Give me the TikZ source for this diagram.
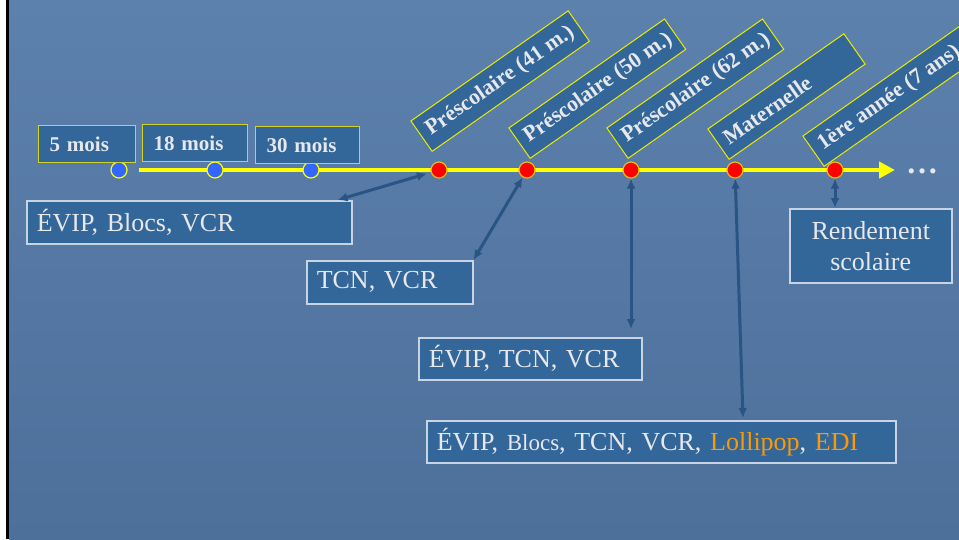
\documentclass[tikz,border=0pt]{standalone}
\usepackage{fontspec}
\setmainfont{Liberation Serif}
\usetikzlibrary{arrows.meta,calc}
\definecolor{bgtop}{RGB}{92,129,172}
\definecolor{bgbot}{RGB}{77,112,155}
\definecolor{boxblue}{RGB}{51,102,153}
\definecolor{txtgrey}{RGB}{230,232,236}
\definecolor{edgegrey}{RGB}{200,212,228}
\definecolor{tyellow}{RGB}{255,255,0}
\definecolor{byellow}{RGB}{210,210,40}
\definecolor{ryellow}{RGB}{235,235,0}
\definecolor{arrowblue}{RGB}{42,84,132}
\definecolor{dotblue}{RGB}{51,102,255}
\definecolor{dotedge}{RGB}{235,190,0}
\definecolor{orangeT}{RGB}{255,153,0}
\begin{document}
\begin{tikzpicture}[x=1pt,y=-1pt,
  agebox/.style={draw=byellow, line width=1pt, fill=boxblue, text=txtgrey,
    font=\fontsize{21}{24}\selectfont\bfseries, minimum height=37pt,
    inner xsep=11pt, inner ysep=0pt, anchor=north west, align=left},
  rotbox/.style={draw=ryellow, line width=1pt, fill=boxblue, text=txtgrey,
    font=\fontsize{22}{24}\selectfont\bfseries, minimum height=37pt,
    inner xsep=8pt, inner ysep=0pt, anchor=south west, rotate=35},
  infobox/.style={draw=edgegrey, line width=1.5pt, fill=boxblue, text=txtgrey,
    font=\fontsize{26}{31}\selectfont, inner xsep=10pt, inner ysep=0pt,
    anchor=north west, align=left},
  bdot/.style={circle, draw=tyellow, line width=1.2pt, fill=dotblue, minimum size=16pt, inner sep=0pt},
  rdot/.style={circle, draw=dotedge, line width=1.2pt, fill=red, minimum size=16pt, inner sep=0pt},
  conn/.style={draw=arrowblue, line width=3pt, arrows={Latex[length=10pt,width=9pt]-Latex[length=10pt,width=9pt]}},
  timeline/.style={draw=tyellow, line width=4pt, arrows={-Triangle[length=16pt,width=16pt]}}
]
\useasboundingbox (0,0) rectangle (959,539);
\clip (0,0) rectangle (959,539);
% background
\fill[white] (0,0) rectangle (9,539);
\shade[top color=bgtop, bottom color=bgbot] (9,0) rectangle (959,539);
\draw[black, line width=3pt] (7.5,0) -- (7.5,539);

% timeline
\coordinate (tl0) at (139,170);
\coordinate (tl1) at (895,170);
\draw[timeline] (tl0) -- (tl1);
\node[text=txtgrey, font=\fontsize{32}{34}\selectfont\bfseries, anchor=base, inner sep=0pt] (dots) at (922,173) {…};

% dots
\node[bdot] (d5) at (119,170) {};
\node[bdot] (d18) at (215,170) {};
\node[bdot] (d30) at (311,170) {};
\node[rdot] (d41) at (439,170) {};
\node[rdot] (d50) at (527,170) {};
\node[rdot] (d62) at (631,170) {};
\node[rdot] (dmat) at (735,170) {};
\node[rdot] (d1) at (835,170) {};

% age boxes
\node[agebox, text width=75pt] (m5) at (38,125) {5 mois};
\node[agebox, text width=83pt] (m18) at (142,124) {18 mois};
\node[agebox, text width=82pt] (m30) at (255,126) {30 mois};

% rotated labels
\node[rotbox] (p41) at (432,152) {\makebox[176pt][l]{Préscolaire (41 m.)}};
\node[rotbox] (p50) at (530,159) {\makebox[174pt][l]{Préscolaire (50 m.)}};
\node[rotbox] (p62) at (628,159) {\makebox[174pt][l]{Préscolaire (62 m.)}};
\node[rotbox] (pmat) at (729,160) {\makebox[150pt][l]{Maternelle}};
\node[rotbox] (p1) at (824,167) {\makebox[204pt][l]{1ère année (7 ans)}};

% info boxes
\node[infobox, text width=305pt, minimum height=43pt] (e1) at (26,200) {ÉVIP, Blocs, VCR};
\node[infobox, text width=146pt, minimum height=43pt] (e2) at (306,260) {TCN, VCR};
\node[infobox, text width=203pt, minimum height=42pt] (e3) at (418,337) {ÉVIP, TCN, VCR};
\node[infobox, text width=449pt, minimum height=42pt] (e4) at (426,420) {ÉVIP, {\fontsize{23}{28}\selectfont Blocs}, TCN, VCR, \textcolor{orangeT}{Lollipop}, \textcolor{orangeT}{EDI}};
\node[infobox, text width=142pt, minimum height=74pt, align=center] (e5) at (789,208) {Rendement\\scolaire};

% connectors
\coordinate (c3) at (631,329);
\coordinate (c4) at (743,418);
\draw[conn, shorten >=4pt] ($(e1.north east)+(-15,0)$) -- (d41);
\draw[conn] (e2.north east) -- (d50);
\draw[conn] (d62) -- (c3);
\draw[conn] (dmat) -- (c4);
\draw[conn] (d1) -- (d1 |- e5.north);
\end{tikzpicture}
\end{document}
